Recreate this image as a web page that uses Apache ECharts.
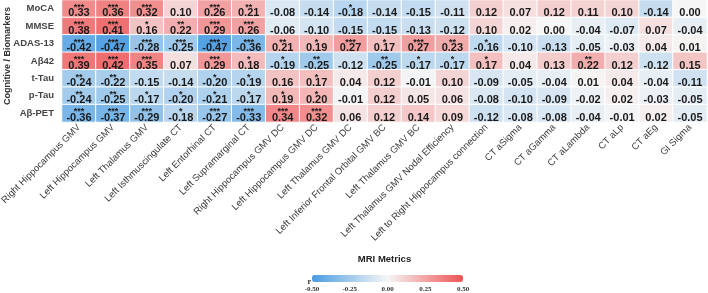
<!DOCTYPE html>
<html>
<head>
<meta charset="utf-8">
<script src="https://cdn.jsdelivr.net/npm/echarts@6/dist/echarts.min.js"></script>
<style>
  html, body { margin: 0; padding: 0; background: #fff; }
  #box { width: 708px; height: 293px; }
</style>
</head>
<body>
<div id="box"></div>
<script>
// MRI metrics (x) and cognitive / biomarker measures (y, top to bottom)
var metrics = ['Right Hippocampus GMV', 'Left Hippocampus GMV', 'Left Thalamus GMV', 'Left Isthmuscingulate CT',
  'Left Entorhinal CT', 'Left Supramarginal CT', 'Right Hippocampus GMV DC', 'Left Hippocampus GMV DC',
  'Left Thalamus GMV DC', 'Left Inferior Frontal Orbital GMV BC', 'Left Thalamus GMV BC',
  'Left Thalamus GMV Nodal Efficiency', 'Left to Right Hippocampus connection', 'CT aSigma', 'CT aGamma',
  'CT aLambda', 'CT aLp', 'CT aEg', 'GI Sigma'];
var measures = ['MoCA', 'MMSE', 'ADAS-13', 'Aβ42', 't-Tau', 'p-Tau', 'Aβ-PET'];

// correlation r per row
var moca   = [0.33, 0.36, 0.32, 0.10, 0.26, 0.21, -0.08, -0.14, -0.18, -0.14, -0.15, -0.11, 0.12, 0.07, 0.12, 0.11, 0.10, -0.14, 0.00];
var mmse   = [0.38, 0.41, 0.16, 0.22, 0.29, 0.26, -0.06, -0.10, -0.15, -0.15, -0.13, -0.12, 0.10, 0.02, 0.00, -0.04, -0.07, 0.07, -0.04];
var adas13 = [-0.42, -0.47, -0.28, -0.25, -0.47, -0.36, 0.21, 0.19, 0.27, 0.17, 0.27, 0.23, -0.16, -0.10, -0.13, -0.05, -0.03, 0.04, 0.01];
var ab42   = [0.39, 0.42, 0.35, 0.07, 0.29, 0.18, -0.19, -0.25, -0.12, -0.25, -0.17, -0.17, 0.17, 0.04, 0.13, 0.22, 0.12, -0.12, 0.15];
var tTau   = [-0.24, -0.22, -0.15, -0.14, -0.20, -0.19, 0.16, 0.17, 0.04, 0.12, -0.01, 0.10, -0.09, -0.05, -0.04, 0.01, 0.04, -0.04, -0.11];
var pTau   = [-0.24, -0.25, -0.17, -0.20, -0.21, -0.17, 0.19, 0.20, -0.01, 0.12, 0.05, 0.06, -0.08, -0.10, -0.09, -0.02, 0.02, -0.03, -0.05];
var abPet  = [-0.36, -0.37, -0.29, -0.18, -0.27, -0.33, 0.34, 0.32, 0.06, 0.12, 0.14, 0.09, -0.12, -0.08, -0.08, -0.04, -0.01, 0.02, -0.05];

// number of significance stars per cell
var mocaSig   = [3, 3, 3, 0, 3, 2, 0, 0, 1, 0, 0, 0, 0, 0, 0, 0, 0, 0, 0];
var mmseSig   = [3, 3, 1, 2, 3, 3, 0, 0, 0, 0, 0, 0, 0, 0, 0, 0, 0, 0, 0];
var adas13Sig = [3, 3, 3, 3, 3, 3, 2, 1, 3, 1, 3, 2, 1, 0, 0, 0, 0, 0, 0];
var ab42Sig   = [3, 3, 3, 0, 3, 1, 1, 2, 0, 2, 1, 1, 1, 0, 0, 2, 0, 0, 0];
var tTauSig   = [2, 2, 0, 0, 1, 1, 0, 1, 0, 0, 0, 0, 0, 0, 0, 0, 0, 0, 0];
var pTauSig   = [2, 2, 1, 1, 1, 1, 1, 1, 0, 0, 0, 0, 0, 0, 0, 0, 0, 0, 0];
var abPetSig  = [3, 3, 3, 1, 3, 3, 3, 3, 0, 0, 0, 0, 0, 0, 0, 0, 0, 0, 0];

var colorTicks = [-0.5, 0.5];

var rows = [moca, mmse, adas13, ab42, tTau, pTau, abPet];
var sigs = [mocaSig, mmseSig, adas13Sig, ab42Sig, tTauSig, pTauSig, abPetSig];

var cells = [];
rows.forEach(function (row, y) {
  row.forEach(function (v, x) {
    cells.push([x, y, v, sigs[y][x]]);
  });
});

var font = 'Liberation Sans, Arial, sans-serif';
var myChart = echarts.init(document.getElementById('box'));
var option = {
  animation: false,
  grid: [
    { left: 62, right: 1, top: 0, height: 122, containLabel: false, outerBoundsMode: 'none' },
    { left: 312, width: 151, top: 275, height: 7, containLabel: false, outerBoundsMode: 'none' }
  ],
  xAxis: [
    {
      type: 'category',
      data: metrics,
      gridIndex: 0,
      axisLine: { show: false },
      axisTick: { show: false },
      splitLine: { show: false },
      axisLabel: { rotate: 45, interval: 0, margin: 4, fontSize: 9.5, color: '#3a3a3a', fontFamily: font },
      name: 'MRI Metrics',
      nameLocation: 'middle',
      nameMoveOverlap: false,
      nameGap: 132,
      nameTextStyle: { fontSize: 9.5, fontWeight: 'bold', color: '#222', fontFamily: font }
    },
    {
      type: 'value',
      gridIndex: 1,
      min: colorTicks[0],
      max: colorTicks[1],
      interval: 0.25,
      axisLine: { show: false },
      axisTick: { show: false },
      splitLine: { show: false },
      axisLabel: {
        margin: 4, fontSize: 7, fontWeight: 'bold', color: '#333', fontFamily: 'Liberation Serif, serif',
        formatter: function (v) { return v.toFixed(2); }
      },
      name: 'r',
      nameLocation: 'start',
      nameMoveOverlap: false,
      nameGap: 1,
      nameTextStyle: { fontSize: 8, fontWeight: 'bold', color: '#333', fontFamily: 'Liberation Serif, serif' }
    }
  ],
  yAxis: [
    {
      type: 'category',
      data: measures,
      inverse: true,
      gridIndex: 0,
      axisLine: { show: false },
      axisTick: { show: false },
      splitLine: { show: false },
      axisLabel: { margin: 8, fontSize: 9.5, fontWeight: 'bold', color: '#444', fontFamily: font },
      name: 'Cognitive / Biomarkers',
      nameLocation: 'middle',
      nameRotate: 90,
      nameMoveOverlap: false,
      nameGap: 50,
      nameTextStyle: { fontSize: 9, fontWeight: 'bold', color: '#333', fontFamily: font, padding: [0, 0, 0, 10] }
    },
    {
      type: 'value',
      gridIndex: 1,
      show: false,
      min: 0,
      max: 1
    }
  ],
  visualMap: {
    type: 'continuous',
    min: colorTicks[0],
    max: colorTicks[1],
    dimension: 2,
    seriesIndex: 0,
    orient: 'horizontal',
    calculable: false,
    left: 312,
    top: 275,
    padding: 0,
    itemWidth: 7,
    itemHeight: 151,
    inRange: { color: ['#4a9de2', '#f6f6f6', '#ee5354'] }
  },
  series: [
    {
      type: 'heatmap',
      xAxisIndex: 0,
      yAxisIndex: 0,
      data: cells,
      itemStyle: { borderColor: '#ffffff', borderWidth: 1 },
      label: {
        show: true,
        offset: [0, 1.6],
        formatter: function (p) {
          var s = p.data[3] ? '*'.repeat(p.data[3]) : ' ';
          return '{s|' + s + '}\n{v|' + p.data[2].toFixed(2) + '}';
        },
        rich: {
          s: { fontSize: 9, fontWeight: 'bold', lineHeight: 6, color: '#1a1a1a', fontFamily: font },
          v: { fontSize: 11, fontWeight: 'bold', lineHeight: 6, color: '#1a1a1a', fontFamily: font }
        }
      }
    },
    {
      type: 'scatter',
      xAxisIndex: 1,
      yAxisIndex: 1,
      data: []
    }
  ]
};
myChart.setOption(option);
</script>
</body>
</html>
